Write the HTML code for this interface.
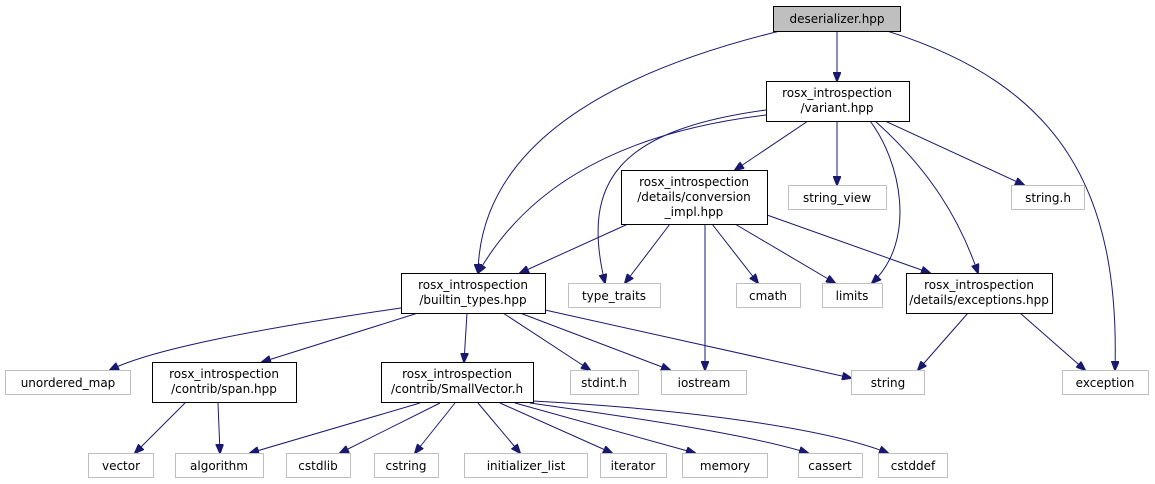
<!DOCTYPE html>
<html><head><meta charset="utf-8"><style>
html,body{margin:0;padding:0;background:#fff}
svg{display:block}
text{font-family:"DejaVu Sans","Liberation Sans",sans-serif;font-size:12px;fill:#000}
.n{fill:#fff;stroke:#000;stroke-width:1}
.g{fill:#fff;stroke:#bfbfbf;stroke-width:1}
.e{fill:none;stroke:#191970;stroke-width:1}
</style></head><body>
<svg width="1155" height="484" viewBox="0 0 1155 484" xmlns="http://www.w3.org/2000/svg">
<defs><marker id="a" markerWidth="10" markerHeight="8" refX="9" refY="4" orient="auto" markerUnits="userSpaceOnUse"><path d="M0,0 L10,4 L0,8 z" fill="#191970" stroke="#191970"/></marker></defs>
<g marker-end="url(#a)">
<path class="e" d="M837,31 L837,81"/>
<path class="e" d="M780,31 C600,75 480,150 478,273"/>
<path class="e" d="M887,31 C1060,85 1120,190 1115,370"/>
<path class="e" d="M808,121 L735,170"/>
<path class="e" d="M837,121 L837,185"/>
<path class="e" d="M885,121 L1024,185"/>
<path class="e" d="M870,121 C900,160 918,240 872,283"/>
<path class="e" d="M875,121 C930,170 960,220 978,273"/>
<path class="e" d="M766,110 C620,130 580,180 605,283"/>
<path class="e" d="M766,115 C600,135 520,200 478,273"/>
<path class="e" d="M628,224 L520,273"/>
<path class="e" d="M670,224 L625,283"/>
<path class="e" d="M712,224 L758,283"/>
<path class="e" d="M735,224 L835,283"/>
<path class="e" d="M767,215 L930,273"/>
<path class="e" d="M705,224 L705,370"/>
<path class="e" d="M401,308 C250,330 150,350 110,370"/>
<path class="e" d="M418,313 L262,362"/>
<path class="e" d="M467,313 L464,362"/>
<path class="e" d="M503,313 L590,370"/>
<path class="e" d="M520,313 L670,370"/>
<path class="e" d="M545,310 L851,378"/>
<path class="e" d="M968,313 L918,370"/>
<path class="e" d="M1020,313 L1085,370"/>
<path class="e" d="M185,403 L135,453"/>
<path class="e" d="M218,403 L220,453"/>
<path class="e" d="M420,403 L250,453"/>
<path class="e" d="M440,403 L340,453"/>
<path class="e" d="M455,403 L415,453"/>
<path class="e" d="M478,403 L520,453"/>
<path class="e" d="M500,403 L612,453"/>
<path class="e" d="M515,403 L695,453"/>
<path class="e" d="M530,403 C650,420 750,435 808,453"/>
<path class="e" d="M533,401 C700,410 830,430 888,453"/>
</g>
<rect x="773.5" y="6.5" width="127" height="25" fill="#bfbfbf" stroke="#000"/>
<text x="837" y="23" text-anchor="middle">deserializer.hpp</text>
<rect class="n" x="766.5" y="81.5" width="143" height="40"/>
<text x="837" y="97" text-anchor="middle">rosx_introspection</text><text x="837" y="112" text-anchor="middle">/variant.hpp</text>
<rect class="n" x="621.5" y="170.5" width="146" height="54"/>
<text x="694" y="186" text-anchor="middle">rosx_introspection</text><text x="694" y="201" text-anchor="middle">/details/conversion</text><text x="694" y="216" text-anchor="middle">_impl.hpp</text>
<rect class="g" x="788.5" y="185.5" width="98" height="24"/><text x="837" y="202" text-anchor="middle" fill="#000">string_view</text>
<rect class="g" x="1011.5" y="185.5" width="73" height="24"/><text x="1048" y="202" text-anchor="middle">string.h</text>
<rect class="n" x="401.5" y="273.5" width="144" height="40"/>
<text x="473" y="289" text-anchor="middle">rosx_introspection</text><text x="473" y="304" text-anchor="middle">/builtin_types.hpp</text>
<rect class="g" x="568.5" y="283.5" width="92" height="24"/><text x="614" y="300" text-anchor="middle">type_traits</text>
<rect class="g" x="736.5" y="283.5" width="64" height="24"/><text x="768" y="300" text-anchor="middle">cmath</text>
<rect class="g" x="822.5" y="283.5" width="60" height="24"/><text x="852" y="300" text-anchor="middle">limits</text>
<rect class="n" x="906.5" y="273.5" width="146" height="40"/>
<text x="979" y="289" text-anchor="middle">rosx_introspection</text><text x="979" y="304" text-anchor="middle">/details/exceptions.hpp</text>
<rect class="g" x="5.5" y="370.5" width="125" height="24"/><text x="68" y="387" text-anchor="middle">unordered_map</text>
<rect class="n" x="152.5" y="362.5" width="144" height="40"/>
<text x="224" y="378" text-anchor="middle">rosx_introspection</text><text x="224" y="393" text-anchor="middle">/contrib/span.hpp</text>
<rect class="n" x="381.5" y="362.5" width="152" height="40"/>
<text x="457" y="378" text-anchor="middle">rosx_introspection</text><text x="457" y="393" text-anchor="middle">/contrib/SmallVector.h</text>
<rect class="g" x="570.5" y="370.5" width="68" height="24"/><text x="604" y="387" text-anchor="middle">stdint.h</text>
<rect class="g" x="661.5" y="370.5" width="85" height="24"/><text x="704" y="387" text-anchor="middle">iostream</text>
<rect class="g" x="851.5" y="370.5" width="73" height="24"/><text x="888" y="387" text-anchor="middle">string</text>
<rect class="g" x="1062.5" y="370.5" width="86" height="24"/><text x="1105" y="387" text-anchor="middle">exception</text>
<rect class="g" x="88.5" y="453.5" width="65" height="24"/><text x="121" y="470" text-anchor="middle">vector</text>
<rect class="g" x="175.5" y="453.5" width="88" height="24"/><text x="219" y="470" text-anchor="middle">algorithm</text>
<rect class="g" x="286.5" y="453.5" width="64" height="24"/><text x="318" y="470" text-anchor="middle">cstdlib</text>
<rect class="g" x="374.5" y="453.5" width="64" height="24"/><text x="406" y="470" text-anchor="middle">cstring</text>
<rect class="g" x="464.5" y="453.5" width="123" height="24"/><text x="526" y="470" text-anchor="middle">initializer_list</text>
<rect class="g" x="600.5" y="453.5" width="66" height="24"/><text x="633" y="470" text-anchor="middle">iterator</text>
<rect class="g" x="682.5" y="453.5" width="85" height="24"/><text x="725" y="470" text-anchor="middle">memory</text>
<rect class="g" x="798.5" y="453.5" width="64" height="24"/><text x="830" y="470" text-anchor="middle">cassert</text>
<rect class="g" x="878.5" y="453.5" width="69" height="24"/><text x="913" y="470" text-anchor="middle">cstddef</text>
</svg>
</body></html>
